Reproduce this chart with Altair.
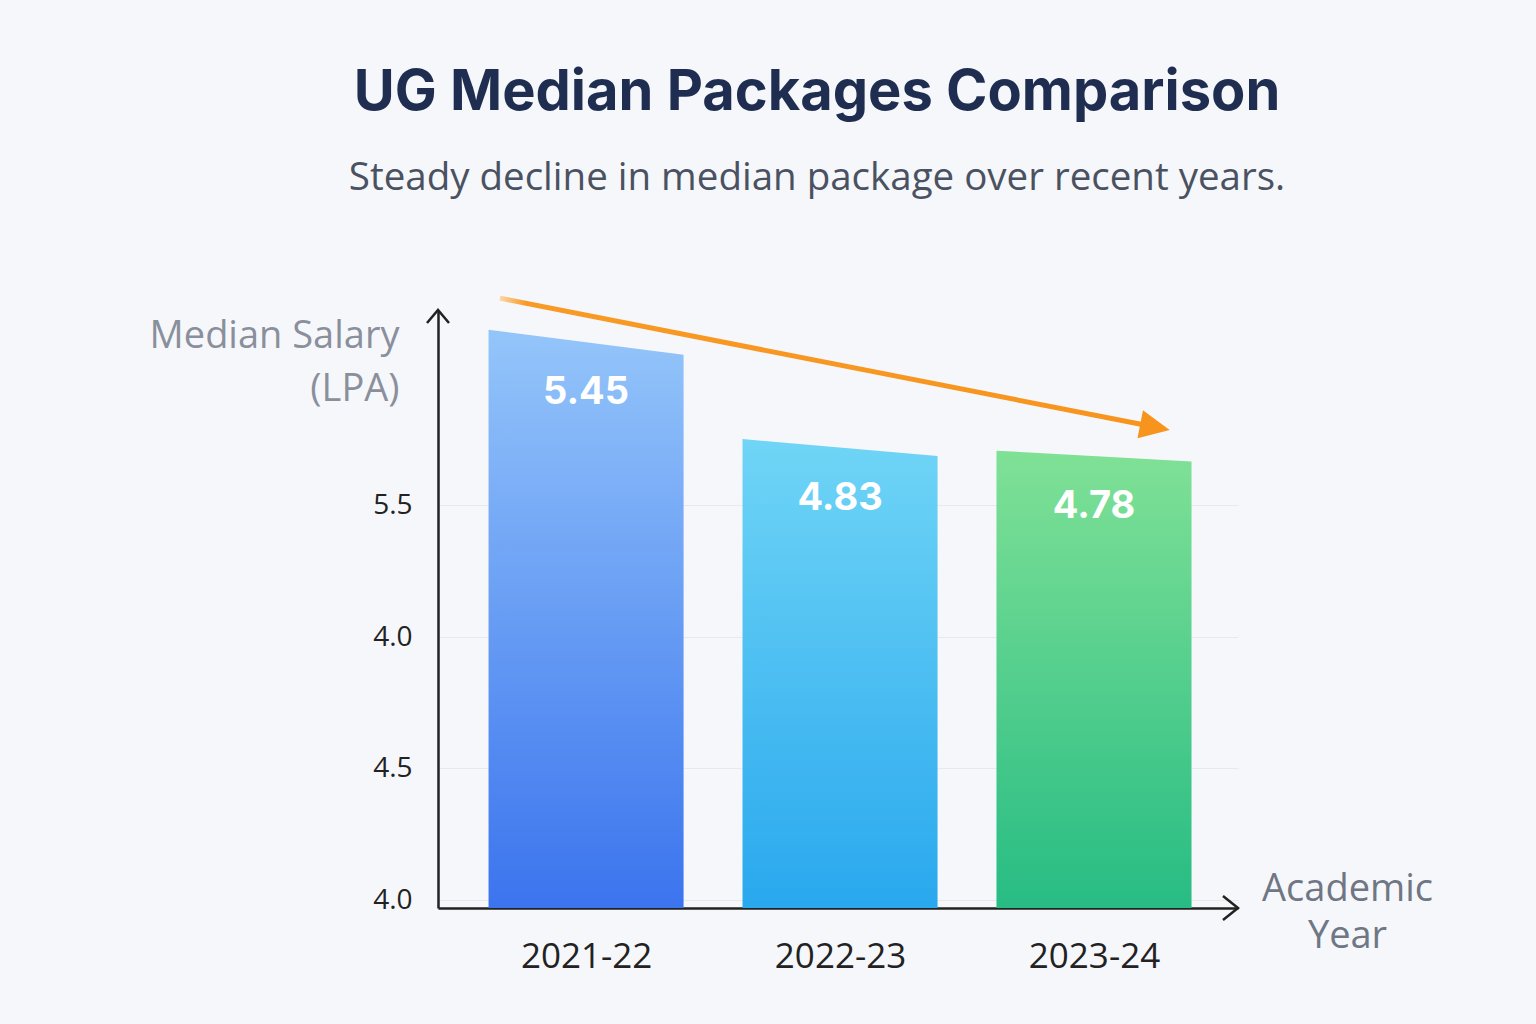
import json
import altair as alt
import pandas as pd

# ---- data ----
YEARS = ["2021-22", "2022-23", "2023-24"]
MEDIANS = [5.45, 4.83, 4.78]
Y_TICK_LABELS = ["4.0", "4.5", "4.0", "5.5"]
Y_TICK_VALUES = [2.167, 2.944, 3.715, 4.492]

TITLE = "UG Median Packages Comparison"
SUBTITLE = "Steady decline in median package over recent years."

# ---- styling ----
Y_MIN, Y_MAX = 2.12, 5.64
X_MIN, X_MAX = -0.583, 2.567
HALF = 0.384
TILT = [0.074, 0.05, 0.032]
GRADS = [("#94c5fa", "#3b74ee"), ("#70d5f6", "#29a8ee"), ("#80e196", "#27bc84")]
W, H = 800, 598
AXIS_COLOR = "#222222"

xs = alt.Scale(domain=[X_MIN, X_MAX], nice=False, zero=False)
ys = alt.Scale(domain=[Y_MIN, Y_MAX], nice=False, zero=False)

x_label_expr = f"{json.dumps(YEARS)}[round(datum.value)]"
step = Y_TICK_VALUES[1] - Y_TICK_VALUES[0]
y_label_expr = f"{json.dumps(Y_TICK_LABELS)}[round((datum.value - {Y_TICK_VALUES[0]})/{step:.4f})]"

x_axis = alt.Axis(
    values=list(range(len(YEARS))), labelExpr=x_label_expr, grid=False, ticks=False,
    domain=True, domainColor=AXIS_COLOR, domainWidth=2.5,
    labelFont="Open Sans", labelFontSize=35, labelColor="#222222", labelPadding=31,
    title=["Academic", "Year"], titleAnchor="start", titleAlign="center",
    titleBaseline="alphabetic", titleX=909, titleY=-8, titleLineHeight=47,
    titleFont="Open Sans", titleFontSize=38, titleFontWeight=500, titleColor="#6f7684",
)
y_axis = alt.Axis(
    values=Y_TICK_VALUES, labelExpr=y_label_expr, grid=True, gridColor="#e6e9ef",
    gridWidth=1, ticks=False, domain=True, domainColor=AXIS_COLOR, domainWidth=2.5,
    labelFont="Open Sans", labelFontSize=28, labelColor="#222222", labelPadding=26,
    title=["Median Salary", "(LPA)"], titleAngle=0, titleAlign="right",
    titleAnchor="start", titleBaseline="alphabetic", titleX=-39, titleY=37,
    titleLineHeight=53, titleFont="Open Sans", titleFontSize=38, titleFontWeight=500,
    titleColor="#8a909b",
)


def enc(chart, **extra):
    return chart.encode(
        x=alt.X("x:Q", scale=xs, axis=x_axis),
        y=alt.Y("y:Q", scale=ys, axis=y_axis),
        **extra,
    )


layers = []
for i, (v, t, (c_top, c_bot)) in enumerate(zip(MEDIANS, TILT, GRADS)):
    df = pd.DataFrame({"x": [i - HALF, i + HALF], "y": [v + t, v - t], "base": [Y_MIN, Y_MIN]})
    grad = alt.Gradient(
        gradient="linear",
        stops=[alt.GradientStop(color=c_top, offset=0), alt.GradientStop(color=c_bot, offset=1)],
        x1=0, x2=0, y1=0, y2=1,
    )
    layers.append(enc(alt.Chart(df).mark_area(color=grad, interpolate="linear"), y2="base:Q"))

labels_df = pd.DataFrame({"x": list(range(len(YEARS))), "y": MEDIANS,
                          "label": [f"{v:.2f}" for v in MEDIANS]})
labels = enc(alt.Chart(labels_df).mark_text(
    dy=51, baseline="middle", align="center", font="Inter", fontSize=38,
    fontWeight="bold", color="white",
), text="label:N")

# axis arrow heads
y_head = enc(alt.Chart(pd.DataFrame({"x": [X_MIN], "y": [Y_MAX]})).mark_point(
    shape="M-1,1.18L0,0L1,1.18", size=484, filled=False, strokeWidth=2.5,
    color=AXIS_COLOR, opacity=1,
))
x_head = enc(alt.Chart(pd.DataFrame({"x": [X_MAX], "y": [Y_MIN]})).mark_point(
    shape="M-1.25,-1L0,0L-1.25,1", size=576, filled=False, strokeWidth=2.5,
    color=AXIS_COLOR, opacity=1,
))

# trend arrow derived from first and last medians
trend_df = pd.DataFrame({"x": [-HALF + 0.045, len(MEDIANS) - 1 + 0.22],
                         "y": [MEDIANS[0] + 0.26, MEDIANS[-1] + 0.177]})
trend_grad = alt.Gradient(
    gradient="linear",
    stops=[alt.GradientStop(color="#fcd6a4", offset=0), alt.GradientStop(color="#f89a25", offset=0.04),
           alt.GradientStop(color="#f7941d", offset=1)],
    x1=0, x2=1, y1=0, y2=0,
)
trend = enc(alt.Chart(trend_df).mark_line(stroke=trend_grad, strokeWidth=5))
head_df = pd.DataFrame({"x": [len(MEDIANS) - 1 + 0.24], "y": [MEDIANS[-1] + 0.171]})
head = enc(alt.Chart(head_df).mark_point(
    shape="M1,0L-1,-0.95L-1,0.95Z", size=900, filled=True, color="#f7941d",
    opacity=1, angle=11, strokeWidth=0,
))

chart = alt.layer(*layers, labels, trend, head, y_head, x_head).properties(
    width=W, height=H,
    autosize=alt.AutoSizeParams(type="none"),
    padding={"left": 438, "top": 310, "right": 298, "bottom": 116},
    background="#f6f7fb",
    title=alt.TitleParams(
        text=TITLE, subtitle=SUBTITLE, anchor="middle", frame="group", dx=-21,
        font="Inter", fontSize=56, fontWeight="bold", color="#1f2e50",
        subtitleFont="Open Sans", subtitleFontSize=38.5, subtitleColor="#4a5262",
        subtitlePadding=38, offset=90,
    ),
).configure_view(stroke=None)

chart.save("out.html", embed_options={"renderer": "svg", "actions": False})
